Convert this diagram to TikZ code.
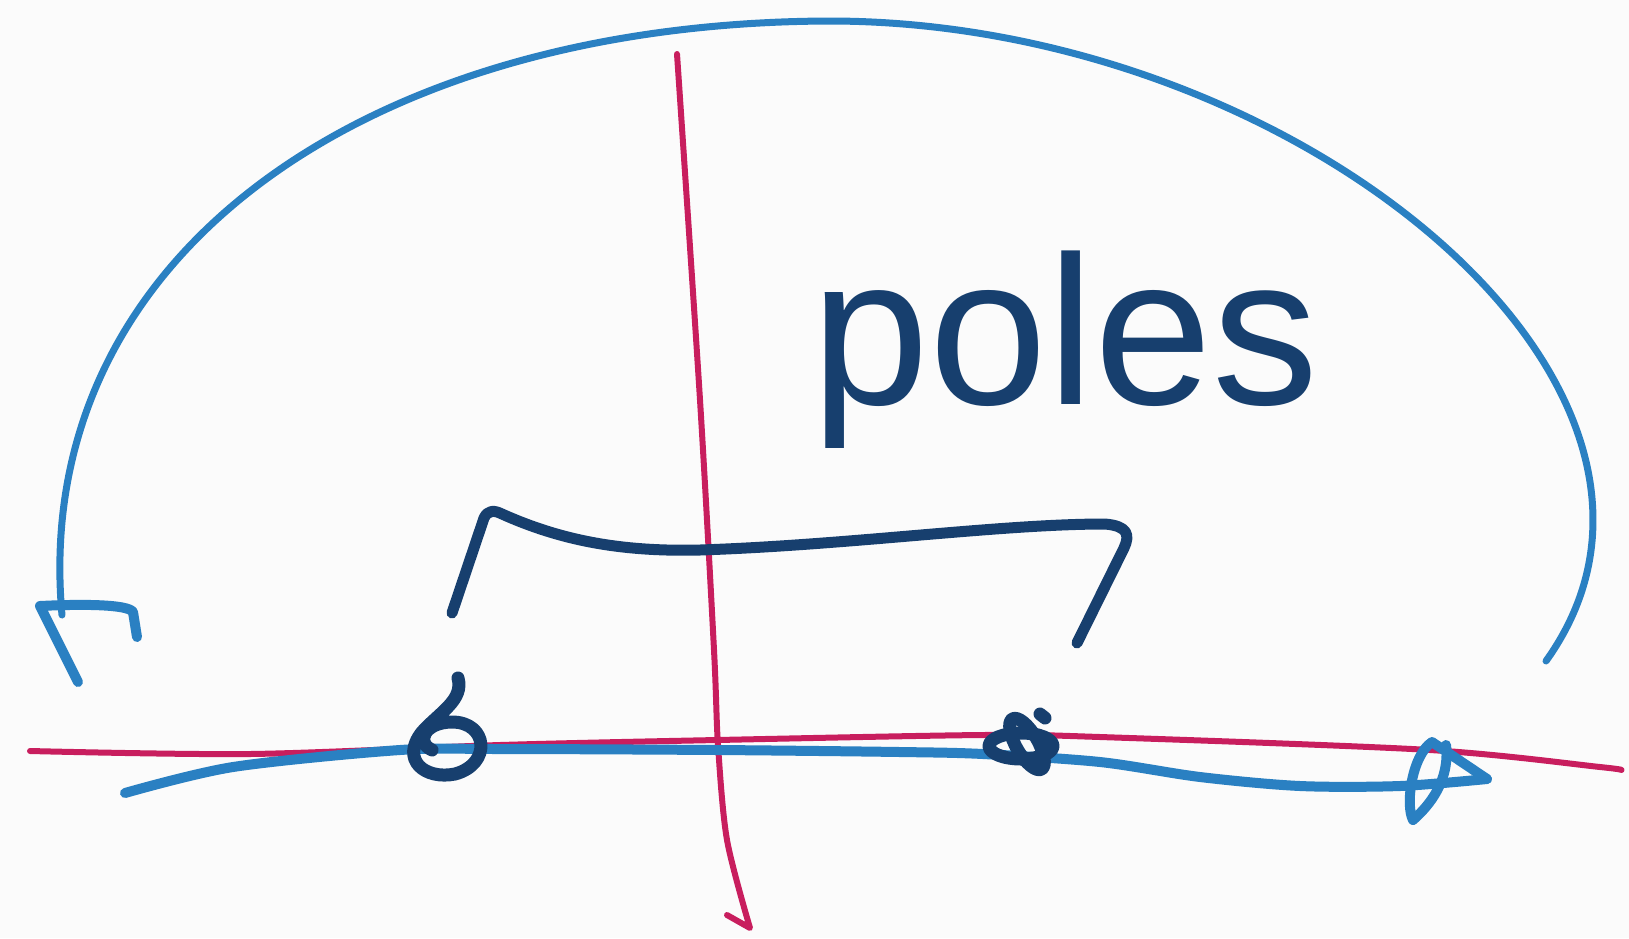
\documentclass[tikz,border=0pt]{standalone}
\usepackage{fontspec}
\setmainfont{Liberation Sans}
\definecolor{axisred}{HTML}{C81E5E}
\definecolor{pathblue}{HTML}{2A80C2}
\definecolor{inknavy}{HTML}{173F6E}
\definecolor{paper}{HTML}{FBFBFB}
\tikzset{
  axisline/.style={draw=axisred, line width=6pt, line cap=round, line join=round},
  contour/.style={draw=pathblue, line width=7pt, line cap=round, line join=round},
  thickcontour/.style={contour, line width=10pt},
  ink/.style={draw=inknavy, line width=11pt, line cap=round, line join=round},
  polemark/.style={draw=inknavy, line width=13pt, line cap=round, line join=round},
  word/.style={text=inknavy, font=\fontsize{212}{212}\selectfont, inner sep=0pt}
}
\begin{document}
\begin{tikzpicture}[x=1pt,y=-1pt]
\fill[paper] (0,0) rectangle (1629,938);
\useasboundingbox (0,0) rectangle (1629,938);
% real axis (red)
\coordinate (reL) at (30,751);
\coordinate (reR) at (1621,770);
\draw[axisline] plot[smooth] coordinates {(reL) (250,754) (500,745) (717,740) (983,735) (1100,737) (1430,750) (1600,767) (reR)};
% imaginary axis (red)
\coordinate (imT) at (677,54);
\coordinate (imB) at (750,928);
\draw[axisline] plot[smooth] coordinates {(imT) (700,400) (714,650) (718,745) (727,840) (imB)} -- (727,915);
% bottom contour segment (blue)
\coordinate (cStart) at (125,793);
\coordinate (cEnd) at (1487,779);
\draw[thickcontour] plot[smooth] coordinates {(cStart) (233,767) (400,750) (500,749) (717,750) (900,752) (983,754) (1100,762) (1200,777) (1300,786) (1400,786) (cEnd)};
% right arrowhead
\draw[thickcontour] (cEnd) -- (1432,742) .. controls (1412,755) and (1405,805) .. (1413,820)
  .. controls (1430,805) and (1450,780) .. (1446,745);
% big arc (blue)
\coordinate (arcR) at (1546,661);
\coordinate (arcTop) at (831,21);
\coordinate (arcL) at (62,615);
\draw[contour] (arcR) .. controls (1740,390) and (1300,22) .. (arcTop)
  .. controls (360,22) and (30,260) .. (arcL);
% left arrowhead
\draw[thickcontour] (78,682) -- (40,606) .. controls (80,604) and (128,604) .. (133,612) -- (137,637);
% bracket (navy)
\coordinate (brL) at (452,613);
\coordinate (brR) at (1077,643);
\draw[ink] (brL) -- (484,518) .. controls (488,510) and (494,510) .. (502,514)
  .. controls (560,540) and (620,552) .. (700,550)
  .. controls (850,545) and (1000,524) .. (1105,524)
  .. controls (1128,526) and (1130,535) .. (1124,548) -- (brR);
% poles (navy scribbles)
\coordinate (p1) at (443,748);
\coordinate (p2) at (1021,746);
\draw[polemark] (458,678) .. controls (464,700) and (440,712) .. (422,732)
  .. controls (400,760) and (425,780) .. (455,774)
  .. controls (492,764) and (488,722) .. (452,722)
  .. controls (425,722) and (415,742) .. (432,750);
\draw[polemark] (p2) ellipse [x radius=32pt, y radius=13pt];
\draw[polemark, rotate around={-60:(1027,744)}] (1027,744) ellipse [x radius=29pt, y radius=11pt];
\draw[polemark] (1040,714) -- (1045,718);
% label
\node[word, anchor=base] (label) at (1065,404) {poles};
\end{tikzpicture}
\end{document}
